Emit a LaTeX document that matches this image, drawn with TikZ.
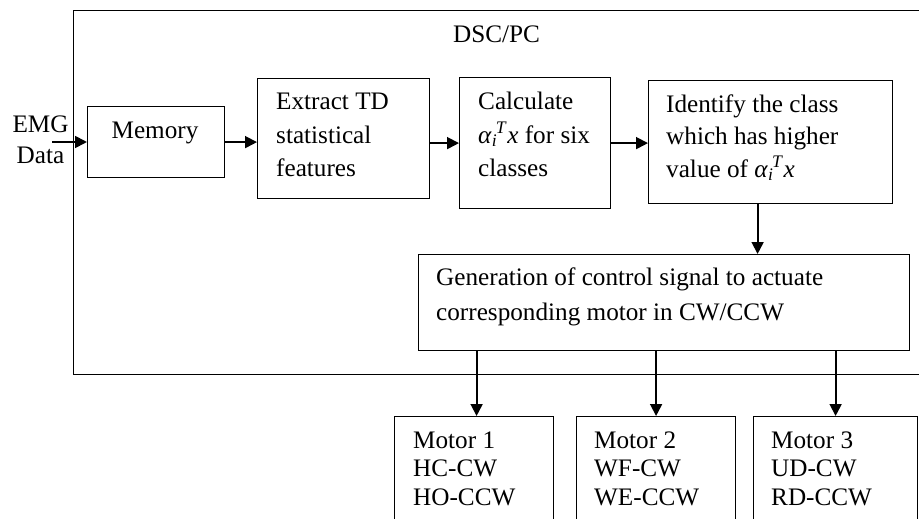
\documentclass[tikz,border=0pt]{standalone}
\usepackage{fontspec}
\setmainfont{Liberation Serif}
\usetikzlibrary{arrows.meta}
\newcommand{\alphaTx}{\textit{α}\textsubscript{\textit{i}}\kern-0.05em\textsuperscript{\textit{T}}\textit{x}}
\begin{document}
\begin{tikzpicture}[x=1pt,y=-1pt,
  box/.style={draw, line width=1.2pt, inner sep=0pt, anchor=north west},
  txt/.style={anchor=base west, inner sep=0pt, font=\fontsize{25.2}{33}\selectfont},
  ctxt/.style={anchor=base, inner sep=0pt, font=\fontsize{25.2}{33}\selectfont},
  arr/.style={line width=1.8pt, -{Triangle[length=12pt,width=12pt]}}]
\useasboundingbox (0,0) rectangle (919,519);
\clip (0,0) rectangle (919,519);
% boxes
\node[box, minimum width=852pt, minimum height=364pt] (dsc) at (73,10) {};
\node[box, minimum width=137pt, minimum height=71pt] (mem) at (87,106) {};
\node[box, minimum width=172pt, minimum height=120pt] (ext) at (257,78) {};
\node[box, minimum width=151pt, minimum height=131pt] (calc) at (459,77) {};
\node[box, minimum width=244pt, minimum height=123pt] (iden) at (648,80) {};
\node[box, minimum width=491pt, minimum height=96pt] (gen) at (418,254) {};
\node[box, minimum width=159pt, minimum height=130pt] (m1) at (394,416) {};
\node[box, minimum width=159pt, minimum height=130pt] (m2) at (576,416) {};
\node[box, minimum width=164pt, minimum height=130pt] (m3) at (753,416) {};
% texts
\node[ctxt] (t-dsc) at (496.5,43) {DSC/PC};
\node[ctxt] (t-emg) at (40.5,132) {EMG};
\node[ctxt] (t-data) at (40.5,163) {Data};
\node[ctxt] (t-mem) at (155,138) {Memory};
\node[txt] (t-ext1) at (276,110) {Extract TD};
\node[txt] (t-ext2) at (276,143) {statistical};
\node[txt] (t-ext3) at (276,176) {features};
\node[txt] (t-calc1) at (478,110) {Calculate};
\node[txt] (t-calc2) at (478,143) {\alphaTx{} for six};
\node[txt] (t-calc3) at (478,176) {classes};
\node[txt] (t-iden1) at (666,112) {Identify the class};
\node[txt] (t-iden2) at (666,144) {which has higher};
\node[txt] (t-iden3) at (666,177) {value of \alphaTx};
\node[txt] (t-gen1) at (436,285) {Generation of control signal to actuate};
\node[txt] (t-gen2) at (436,320) {corresponding motor in CW/CCW};
\node[txt] (t-m1a) at (413,448) {Motor 1};
\node[txt] (t-m1b) at (413,476) {HC-CW};
\node[txt] (t-m1c) at (413,505) {HO-CCW};
\node[txt] (t-m2a) at (594,448) {Motor 2};
\node[txt] (t-m2b) at (594,476) {WF-CW};
\node[txt] (t-m2c) at (594,505) {WE-CCW};
\node[txt] (t-m3a) at (771,448) {Motor 3};
\node[txt] (t-m3b) at (771,476) {UD-CW};
\node[txt] (t-m3c) at (771,505) {RD-CCW};
% connectors
\coordinate (emgin) at (52,142);
\draw[arr] (emgin) -- (emgin -| mem.west);
\draw[arr] (mem.east) -- (mem.east -| ext.west);
\draw[arr] (ext.east |- calc.west) -- (calc.west);
\draw[arr] (calc.east) -- (calc.east -| iden.west);
\draw[arr] ([xshift=-13pt]iden.south) -- ([xshift=-13pt]iden.south |- gen.north);
\draw[arr] ([xshift=2.5pt]m1.north |- gen.south) -- ([xshift=2.5pt]m1.north);
\draw[arr] (m2.north |- gen.south) -- (m2.north);
\draw[arr] (m3.north |- gen.south) -- (m3.north);
\end{tikzpicture}
\end{document}
